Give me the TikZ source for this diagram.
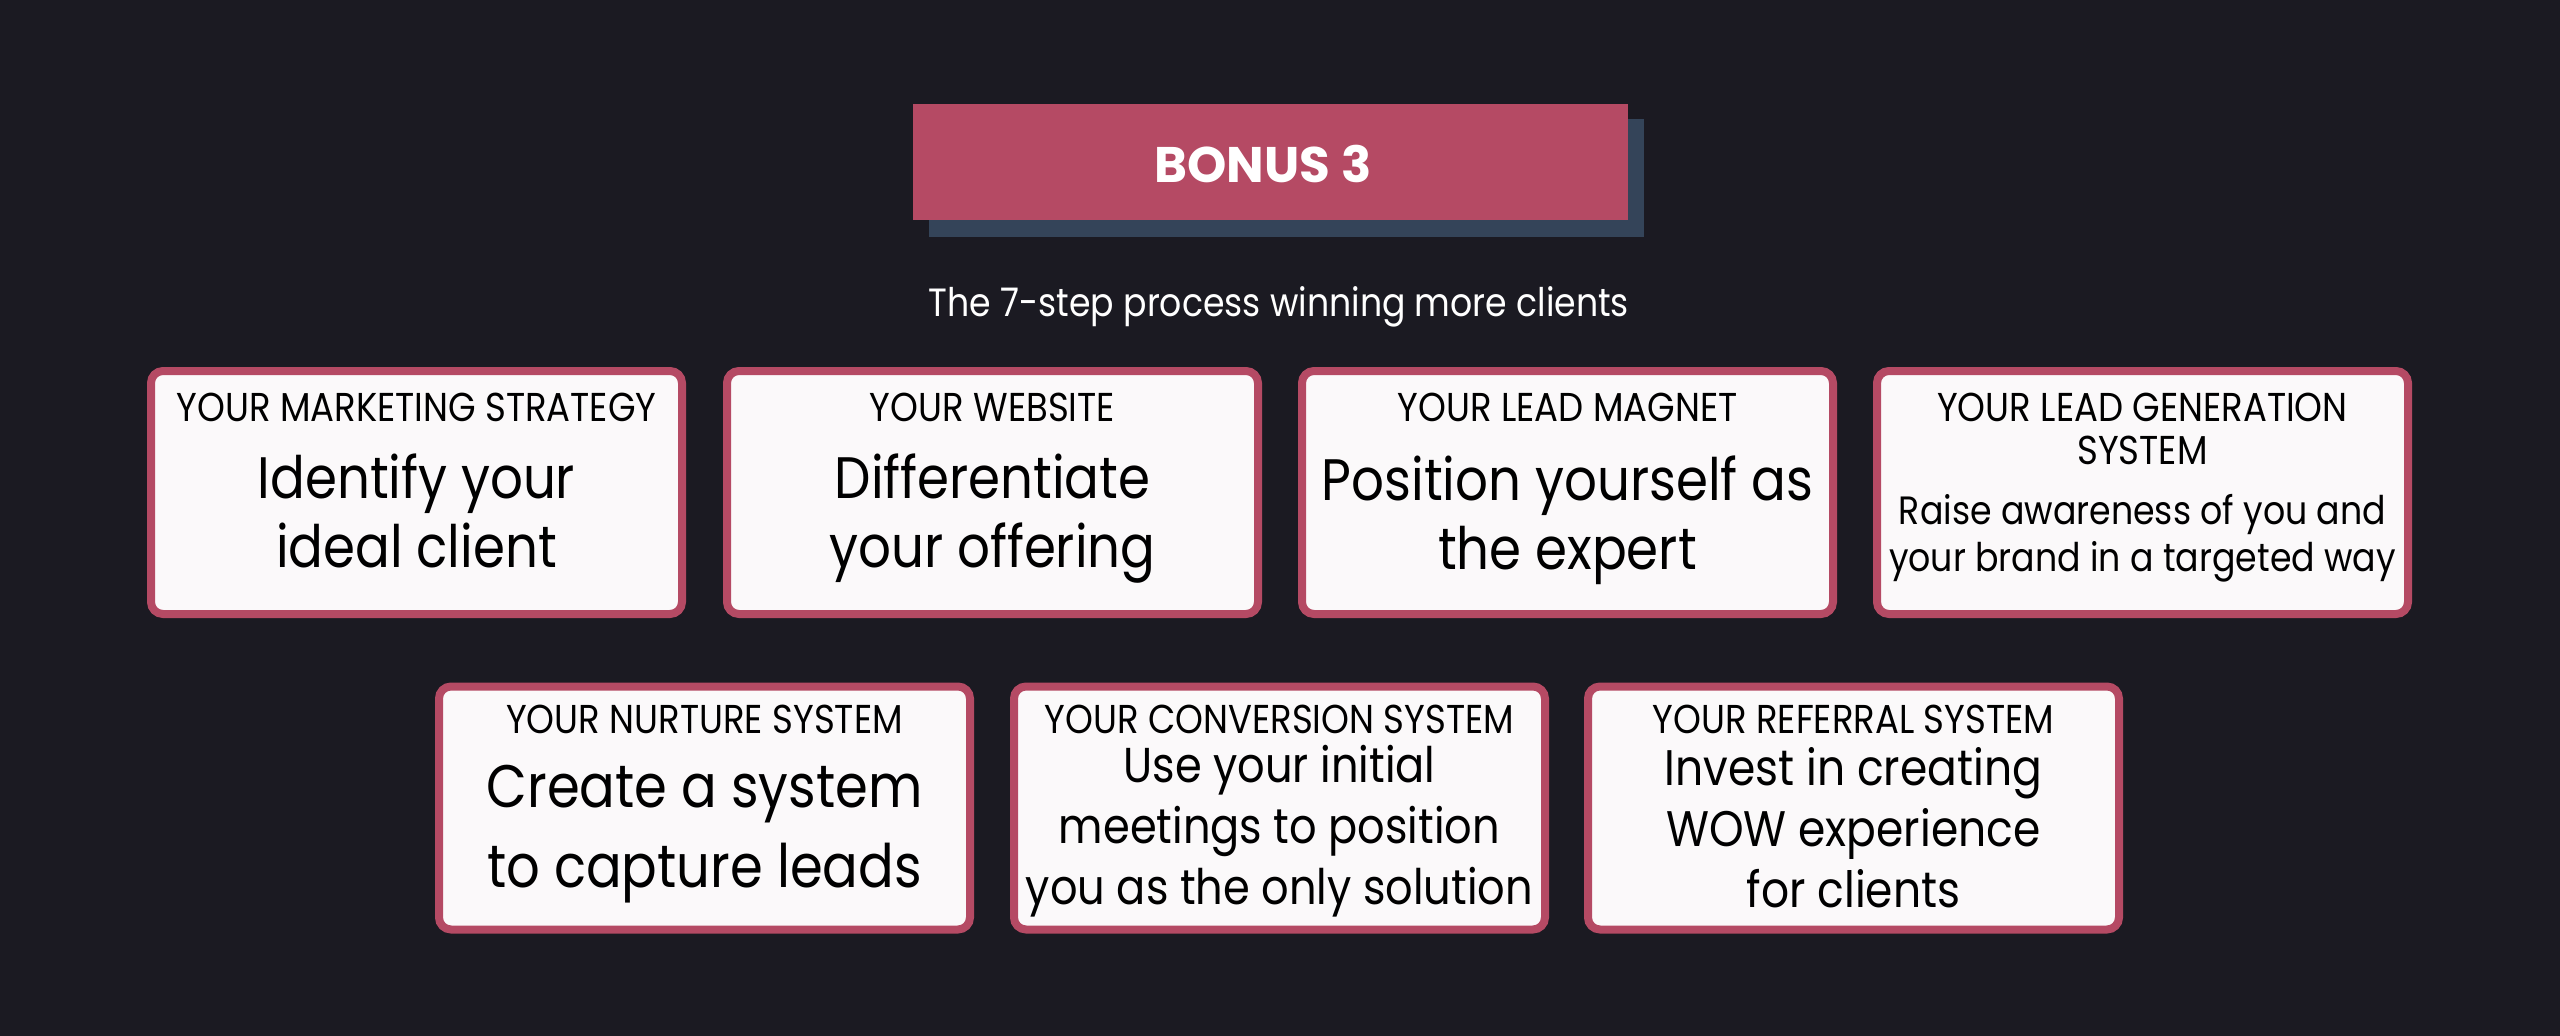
\documentclass[tikz,border=0pt]{standalone}
\usepackage{fontspec}
\setmainfont{Poppins}[FakeStretch=0.88]
\newfontfamily\bonusfont{Poppins}
\definecolor{bgc}{HTML}{1B1A22}
\definecolor{crim}{HTML}{B54A64}
\definecolor{shad}{HTML}{344459}
\definecolor{cardf}{HTML}{FBF9FA}
\begin{document}
\begin{tikzpicture}[x=1pt,y=-1pt,
  card/.style={draw=crim, line width=8pt, fill=cardf, rounded corners=12pt, minimum width=531pt, minimum height=243pt, inner sep=0pt},
  head/.style={text=black, align=center, font=\fontsize{40.3}{43}\selectfont},
  big/.style={text=black, align=center, font=\fontsize{58.5}{69}\selectfont},
  mid/.style={text=black, align=center, font=\fontsize{50}{61}\selectfont},
  small/.style={text=black, align=center, font=\fontsize{39.5}{47}\selectfont}]
\fill[bgc] (0,0) rectangle (2560,1036);
\useasboundingbox (0,0) rectangle (2560,1036);
% bonus banner
\fill[shad] (929,119) rectangle (1644,237);
\node[fill=crim, minimum width=715pt, minimum height=116pt, inner sep=0pt] (bonus) at (1270.5,162) {};
\node[text=white, font=\bonusfont\fontsize{50}{54}\selectfont\bfseries] (bonustxt) at (1263,164) {BONUS 3};
\node[text=white, font=\fontsize{39.4}{44}\selectfont] (sub) at (1279,307) {The 7-step process winning more clients};
% row 1
\node[card] (c1) at (416.5,492.5) {};
\node[card] (c2) at (992.5,492.5) {};
\node[card] (c3) at (1567.5,492.5) {};
\node[card] (c4) at (2142.5,492.5) {};
\node[head] (h1) at (416.5,407) {YOUR MARKETING STRATEGY};
\node[big] (m1) at (416.5,511) {Identify your\\ideal client};
\node[head] (h2) at (992.5,407) {YOUR WEBSITE};
\node[big] (m2) at (992.5,519) {Differentiate\\your offering};
\node[head] (h3) at (1567.5,407) {YOUR LEAD MAGNET};
\node[big] (m3) at (1567.5,520) {Position yourself as\\the expert};
\node[head] (h4) at (2142.5,428.5) {YOUR LEAD GENERATION\\SYSTEM};
\node[small] (m4) at (2142.5,538) {Raise awareness of you and\\your brand in a targeted way};
% row 2
\node[card] (c5) at (704.5,808) {};
\node[card] (c6) at (1279.5,808) {};
\node[card] (c7) at (1853.5,808) {};
\node[head] (h5) at (704.5,719) {YOUR NURTURE SYSTEM};
\node[big, font=\fontsize{60}{80}\selectfont] (m5) at (704.5,834) {Create a system\\to capture leads};
\node[head] (h6) at (1279.5,719) {YOUR CONVERSION SYSTEM};
\node[mid, font=\fontsize{49}{61}\selectfont] (m6) at (1279.5,831) {Use your initial\\meetings to position\\you as the only solution};
\node[head] (h7) at (1853.5,719) {YOUR REFERRAL SYSTEM};
\node[mid] (m7) at (1853.5,828) {Invest in creating\\WOW experience\\for clients};
\end{tikzpicture}
\end{document}
